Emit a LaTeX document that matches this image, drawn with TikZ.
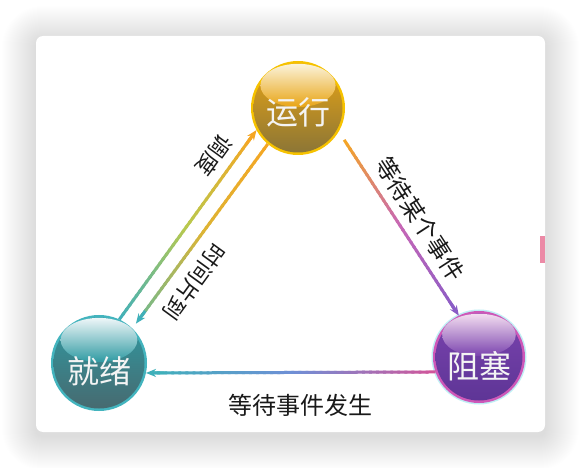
\documentclass[tikz,border=0pt]{standalone}
\usepackage{fontspec}
\setmainfont{Noto Sans CJK SC}
\usetikzlibrary{arrows.meta,calc}
\definecolor{ygold}{HTML}{E8A414}
\definecolor{ydark}{HTML}{8C7636}
\definecolor{yrim}{HTML}{F6C200}
\definecolor{ygloss}{HTML}{FBF3DA}
\definecolor{tmain}{HTML}{2F9AA2}
\definecolor{tdark}{HTML}{476A70}
\definecolor{trim}{HTML}{43B4BE}
\definecolor{tgloss}{HTML}{EEF6F8}
\definecolor{pmain}{HTML}{7A43AE}
\definecolor{pdark}{HTML}{5E3596}
\definecolor{prim}{HTML}{CE58B8}
\definecolor{pgloss}{HTML}{F3DDF0}
\definecolor{pglow}{HTML}{BFEFF5}
\definecolor{lteal}{HTML}{3FB0BA}
\definecolor{lyel}{HTML}{B9C94E}
\definecolor{lorg}{HTML}{F5A623}
\definecolor{lpink}{HTML}{C767B6}
\definecolor{lpur}{HTML}{8A5CC6}
\definecolor{lblue}{HTML}{6F8FD6}
\definecolor{lmag}{HTML}{D2559A}
\definecolor{pinkbar}{HTML}{EC8AA6}
\definecolor{balltext}{HTML}{F4F4F4}
\newcommand\drawball[7]{%
  \fill[#4] #2 circle (#3);
  \shade[top color=#5, middle color=#5, bottom color=#6] #2 circle ({#3-2.5});
  \shade[top color=#7, bottom color=#5] ($#2+(0,{-0.48*#3})$) ellipse ({0.8*#3} and {0.46*#3});
  \node[circle, minimum size={2*#3}, inner sep=0pt, outer sep=0pt] (#1) at #2 {};
}
\newcommand\gline[5]{%
  \coordinate (gl-e) at ($(#2)!7pt!(#1)$);
  \foreach \k in {1,...,40}{
    \pgfmathsetmacro\ta{(\k-1)/40}
    \pgfmathsetmacro\tb{min(\k/40+0.01,1)}
    \pgfmathtruncatemacro\pp{\k<=20 ? (\k-0.5)*5 : (\k-20.5)*5}
    \ifnum\k<21 \colorlet{glc}{#4!\pp!#3}\else\colorlet{glc}{#5!\pp!#4}\fi
    \draw[glc, line width=3pt] ($(#1)!\ta!(gl-e)$) -- ($(#1)!\tb!(gl-e)$);
  }
  \draw[#5, line width=3pt, -{Stealth[length=10pt,width=8pt]}] ($(#1)!0.96!(gl-e)$) -- (#2);
}
\tikzset{
  edgelab/.style={inner sep=0pt, text=black!90, font=\fontsize{22}{22}\selectfont},
  balltxt/.style={inner sep=0pt, text=balltext, font=\fontsize{32}{32}\selectfont}
}
\begin{document}
\begin{tikzpicture}[x=1pt,y=-1pt]
\useasboundingbox (0,0) rectangle (582,468);
\fill[white] (0,0) rectangle (582,468);
% card shadow
\foreach \i in {1,...,34}{
  \pgfmathsetmacro\rr{7+\i}
  \fill[black, opacity=0.0048, rounded corners=\rr pt] (36-\i,40-\i) rectangle (545+\i,436+\i);
}
\fill[white, rounded corners=7pt] (36,36) rectangle (545,432);
\fill[pinkbar] (540,236) rectangle (545,263);
% balls
\drawball{yx}{(298,108)}{47}{yrim}{ygold}{ydark}{ygloss}
\fill[pglow] (479,357) circle (47.5);
\drawball{jx}{(99,363)}{48}{trim}{tmain}{tdark}{tgloss}
\drawball{zs}{(479,357)}{46}{prim}{pmain}{pdark}{pgloss}
% ball labels
\node[balltxt] (yxt) at ($(yx)+(0,4)$) {运行};
\node[balltxt] (jxt) at ($(jx)+(0,8)$) {就绪};
\node[balltxt] (zst) at ($(zs)+(0,9)$) {阻塞};
% connector end points
\coordinate (a1) at (jx.65);
\coordinate (b1) at (yx.208);
\coordinate (a2) at (yx.230);
\coordinate (b2) at ($(jx.46)!6pt!(yx.230)$);
\coordinate (a3) at ($(yx.-30)!10pt!(zs.116)$);
\coordinate (b3) at (zs.116);
\coordinate (a4) at (zs.199);
\coordinate (b4) at (jx.-12);
% connectors
\gline{a1}{b1}{lteal}{lyel}{lorg}
\gline{a2}{b2}{lorg}{lorg!60!lyel}{lteal}
\gline{a3}{b3}{lorg}{lpink}{lpur}
\gline{a4}{b4}{lmag}{lblue}{lteal}
% labels
\node[edgelab, rotate=234] (l1) at (214,155) {调度};
\node[edgelab, rotate=234] (l2) at (194,282) {时间片到};
\node[edgelab, rotate=-57, font=\fontsize{23.5}{23.5}\selectfont] (l3) at (420,219) {等待某个事件};
\node[edgelab, font=\fontsize{24}{24}\selectfont] (l4) at (300,405) {等待事件发生};
\end{tikzpicture}
\end{document}
